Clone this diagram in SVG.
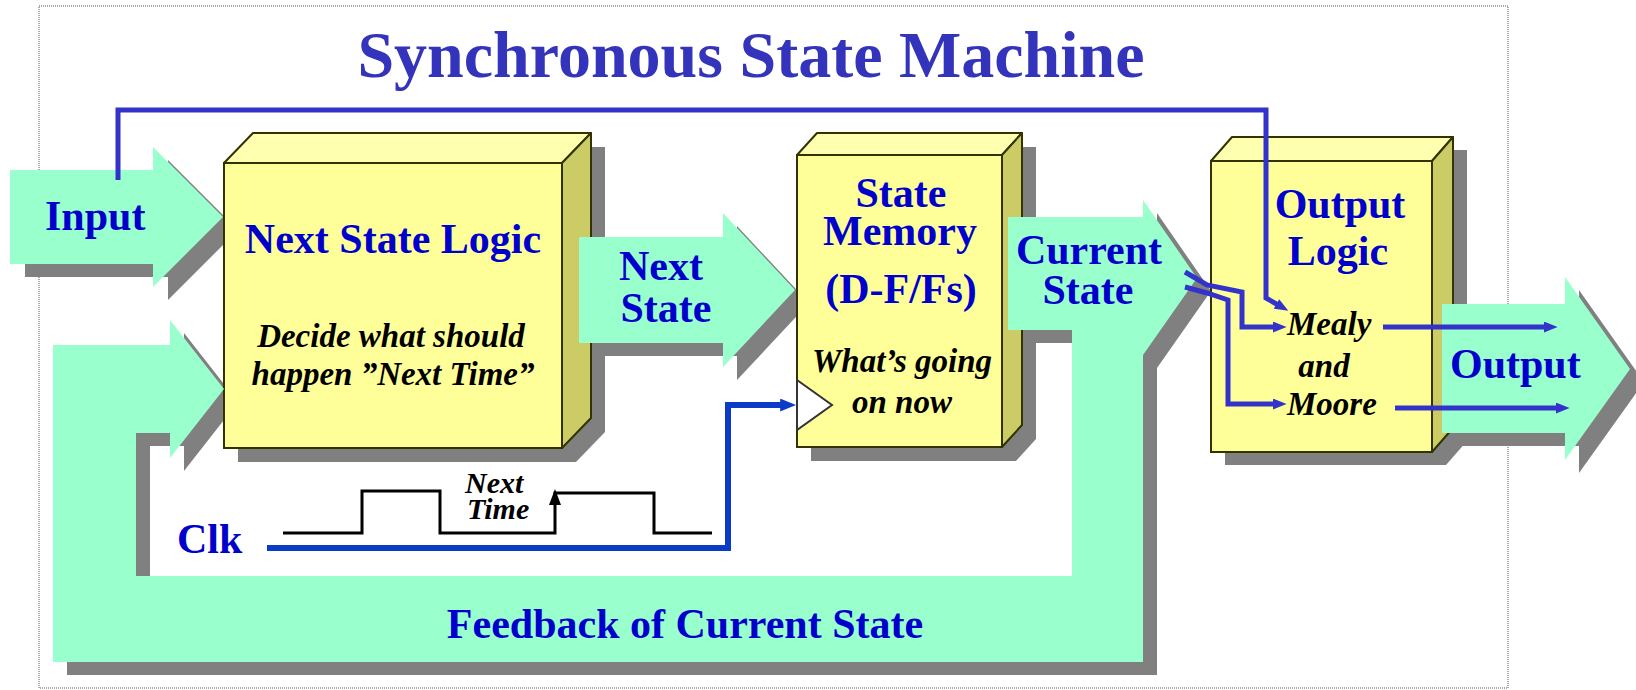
<svg xmlns="http://www.w3.org/2000/svg" width="1636" height="690" viewBox="0 0 1636 690">
<defs>
<style>
.lbl{font-family:"Liberation Serif","Times New Roman",serif;font-weight:bold;fill:#0000cc;font-size:42px}
.it{font-family:"Liberation Serif","Times New Roman",serif;font-weight:bold;font-style:italic;fill:#000;font-size:33px}
.mid{text-anchor:middle}
.shadow{fill:#808080}
.mint{fill:#99ffcc}
.front{fill:#ffff99;stroke:#333300;stroke-width:2}
.top{fill:#ffffb0;stroke:#333300;stroke-width:2;stroke-linejoin:round}
.side{fill:#cccc66;stroke:#333300;stroke-width:2;stroke-linejoin:round}
.wire{fill:none;stroke:#3333cc;stroke-width:5;stroke-linejoin:miter}
.clkwire{fill:none;stroke:#0a3cc8;stroke-width:6}
.wave{fill:none;stroke:#000;stroke-width:3}
</style>
<marker id="ah" viewBox="0 0 10 8" refX="3" refY="4" markerWidth="14" markerHeight="11" markerUnits="userSpaceOnUse" orient="auto"><path d="M0,0 L10,4 L0,8 z" fill="#3333cc"/></marker>
<marker id="ahc" viewBox="0 0 10 8" refX="3" refY="4" markerWidth="16" markerHeight="13" markerUnits="userSpaceOnUse" orient="auto"><path d="M0,0 L10,4 L0,8 z" fill="#0a3cc8"/></marker>
</defs>
<rect width="1636" height="690" fill="#fff"/>
<rect x="39" y="6" width="1469" height="682" fill="none" stroke="#555" stroke-width="1" stroke-dasharray="1,1"/>

<text x="751" y="77" class="lbl mid" style="font-size:66px;fill:#3333bb">Synchronous State Machine</text>

<g id="shadows" class="shadow">
  <polygon transform="translate(14,13)" points="1008,217 1143,217 1143,200 1197,278 1143,355 1143,662 53,662 53,345 170,345 170,320 224,389 170,458 170,433 136,433 136,576 1072,576 1072,330 1008,330"/>
  <polygon transform="translate(15,13)" points="10,170 153,170 153,147 223,217 153,287 153,264 10,264"/>
  <polygon transform="translate(14,13)" points="579,237 723,237 723,213 795,290 723,367 723,343 579,343"/>
  <polygon transform="translate(14,13)" points="1442,304 1565,304 1565,277 1630,369 1565,460 1565,433 1442,433"/>
  <polygon transform="translate(14,14)" points="224,163 253,133 591,133 591,418 562,448 224,448"/>
  <polygon transform="translate(14,14)" points="797,155 817,133 1022,133 1022,425 1002,447 797,447"/>
  <polygon transform="translate(14,13)" points="1211,161 1232,137 1453,137 1453,428 1432,452 1211,452"/>
</g>

<g id="next-state-logic">
  <rect class="front" x="224" y="163" width="338" height="285"/>
  <polygon class="top" points="224,163 253,133 591,133 562,163"/>
  <polygon class="side" points="562,163 591,133 591,418 562,448"/>
  <text x="393" y="253" class="lbl mid">Next State Logic</text>
  <text x="391" y="347" class="it mid">Decide what should</text>
  <text x="393" y="385" class="it mid">happen ”Next Time”</text>
</g>

<g id="state-memory">
  <rect class="front" x="797" y="155" width="205" height="292"/>
  <polygon class="top" points="797,155 817,133 1022,133 1002,155"/>
  <polygon class="side" points="1002,155 1022,133 1022,425 1002,447"/>
  <polygon points="797,380 832,405 797,430" fill="#fff" stroke="#333" stroke-width="2"/>
  <text x="901" y="207" class="lbl mid">State</text>
  <text x="900" y="245" class="lbl mid">Memory</text>
  <text x="901" y="303" class="lbl mid">(D-F/Fs)</text>
  <text x="902" y="372" class="it mid">What’s going</text>
  <text x="902" y="413" class="it mid">on now</text>
</g>

<g id="output-logic">
  <rect class="front" x="1211" y="161" width="221" height="291"/>
  <polygon class="top" points="1211,161 1232,137 1453,137 1432,161"/>
  <polygon class="side" points="1432,161 1453,137 1453,428 1432,452"/>
  <text x="1340" y="218" class="lbl mid">Output</text>
  <text x="1338" y="265" class="lbl mid">Logic</text>
  <text x="1287" y="335" class="it">Mealy</text>
  <text x="1324" y="377" class="it mid">and</text>
  <text x="1287" y="415" class="it">Moore</text>
</g>

<g id="feedback">
  <polygon class="mint" points="1008,217 1143,217 1143,200 1197,278 1143,355 1143,662 53,662 53,345 170,345 170,320 224,389 170,458 170,433 136,433 136,576 1072,576 1072,330 1008,330"/>
  <text x="1089" y="264" class="lbl mid">Current</text>
  <text x="1088" y="304" class="lbl mid">State</text>
  <text x="685" y="638" class="lbl mid">Feedback of Current State</text>
</g>

<g id="input">
  <polygon class="mint" points="10,170 153,170 153,147 223,217 153,287 153,264 10,264"/>
  <text x="45" y="230" class="lbl">Input</text>
</g>

<g id="next-state">
  <polygon class="mint" points="579,237 723,237 723,213 795,290 723,367 723,343 579,343"/>
  <text x="661" y="280" class="lbl mid">Next</text>
  <text x="666" y="322" class="lbl mid">State</text>
</g>

<g id="output">
  <polygon class="mint" points="1442,304 1565,304 1565,277 1630,369 1565,460 1565,433 1442,433"/>
  <text x="1450" y="378" class="lbl">Output</text>
</g>

<g id="clock">
  <path class="wave" d="M283,533 H362 V491 H440 V533 H555 V493 H654 V533 H712"/>
  <polygon points="549,505 555,489 561,505" fill="#000"/>
  <text x="465" y="493" class="it" style="font-size:30px">Next</text>
  <text x="467" y="519" class="it" style="font-size:30px">Time</text>
  <text x="177" y="553" class="lbl">Clk</text>
</g>

<g id="connectors">
  <path class="wire" d="M118,180 V110 H1266 V298 L1280,306" marker-end="url(#ah)"/>
  <path class="wire" d="M1185,272 L1207,285 L1242,292 V327 H1277" marker-end="url(#ah)"/>
  <path class="wire" d="M1185,287 L1207,293 L1228,300 V404 H1277" marker-end="url(#ah)"/>
  <path class="wire" d="M1383,327 H1548" marker-end="url(#ah)"/>
  <path class="wire" d="M1395,408 H1560" marker-end="url(#ah)"/>
  <path class="clkwire" d="M267,548 H728 V405 H785" marker-end="url(#ahc)"/>
</g>
</svg>
